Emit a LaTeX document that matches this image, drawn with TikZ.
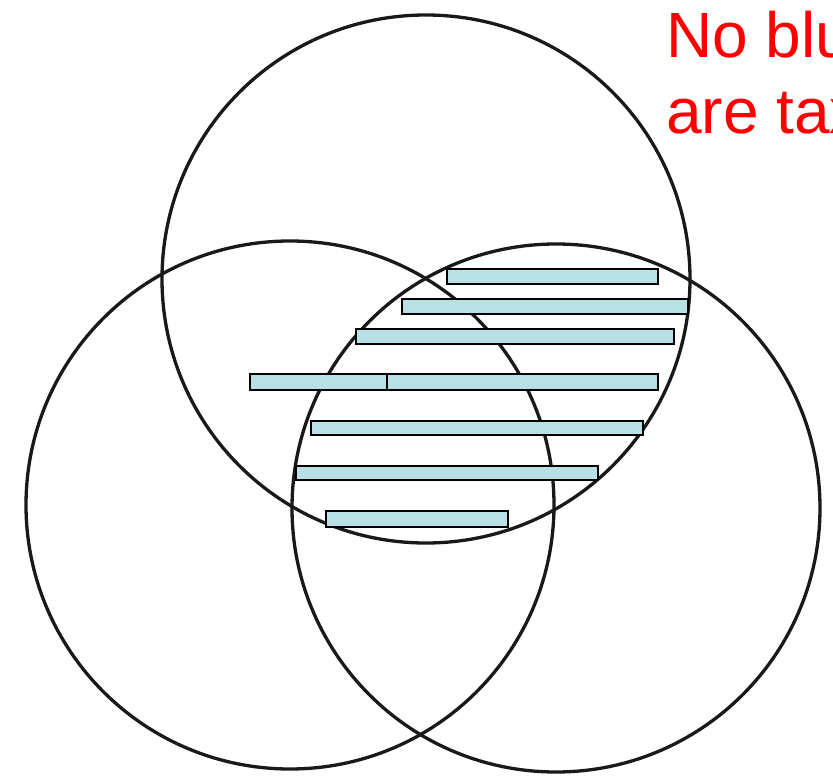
\documentclass[tikz,border=0pt]{standalone}
\usepackage{fontspec}
\setmainfont{Liberation Sans}
\definecolor{barfill}{RGB}{185,224,228}
\definecolor{txtred}{RGB}{255,0,0}
\begin{document}
\begin{tikzpicture}[x=1pt,y=-1pt,
  ring/.style={draw=black!90,line width=3.3pt},
  bar/.style={draw=black,line width=1.3pt,fill=barfill},
  lbl/.style={text=txtred,font=\fontsize{64}{76}\selectfont,anchor=base west,inner sep=0pt}]
\useasboundingbox (0,0) rectangle (833,779);
\fill[white] (0,0) rectangle (833,779);
% circles
\coordinate (ctop) at (426,279);
\coordinate (cleft) at (290,505);
\coordinate (cright) at (556,508);
\draw[ring] (ctop) circle[radius=264];
\draw[ring] (cleft) circle[radius=264];
\draw[ring] (cright) circle[radius=264];
% bars
\draw[bar] (447,269) rectangle (658,284);
\draw[bar] (402,299) rectangle (688,314);
\draw[bar] (356,329) rectangle (674,344);
\draw[bar] (250,374) rectangle (387,390);
\draw[bar] (387,374) rectangle (658,390);
\draw[bar] (311,421) rectangle (643,435);
\draw[bar] (296,466) rectangle (598,480);
\draw[bar] (326,511) rectangle (508,527);
% text (cut off at the right edge, as in the reference)
\node[lbl] (t1) at (666,57) {No blu};
\node[lbl] (t2) at (666,133) {are tax};
\end{tikzpicture}
\end{document}
